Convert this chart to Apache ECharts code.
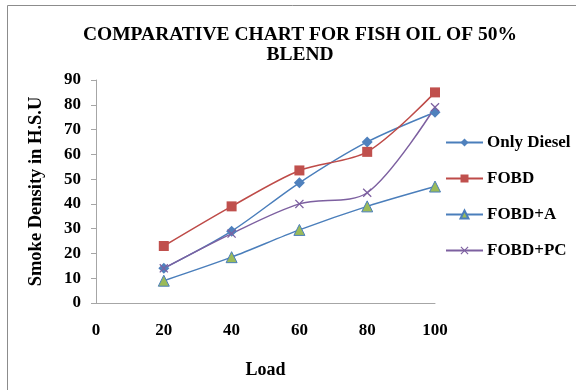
<!DOCTYPE html>
<html>
<head>
<meta charset="utf-8">
<script src="https://cdn.jsdelivr.net/npm/echarts@6/dist/echarts.min.js"></script>
<style>
  html, body { margin: 0; padding: 0; background: #fff; }
  #chart { width: 576px; height: 390px; }
</style>
</head>
<body>
<div id="chart"></div>
<script>
// load (x) and smoke density values
var loads = [20, 40, 60, 80, 100];
var onlyDiesel = [14, 29, 48.5, 65, 77];
var fobd = [23, 39, 53.5, 61, 85];
var fobdA = [9, 18.5, 29.5, 39, 47];
var fobdPC = [14, 28, 40, 44.5, 79];
var xTicks = [0, 20, 40, 60, 80, 100];
var yTicks = [0, 10, 20, 30, 40, 50, 60, 70, 80, 90];

var serif = '"Liberation Serif", "DejaVu Serif", serif';
var crossPath = 'path://M0,1L1,0L5,4L9,0L10,1L6,5L10,9L9,10L5,6L1,10L0,9L4,5Z';

function pairs(values) {
    return values.map(function (v, i) { return [loads[i], v]; });
}

function lineSeries(name, values, lineColor, symbol, fill, border, size) {
    return {
        name: name,
        type: 'line',
        smooth: 0.3,
        data: pairs(values),
        symbol: symbol,
        symbolSize: size,
        lineStyle: {color: lineColor, width: 1.5},
        itemStyle: {color: fill, borderColor: border, borderWidth: border ? 1 : 0},
        z: 3
    };
}

var chart = echarts.init(document.getElementById('chart'));
chart.setOption({
    animation: false,
    textStyle: {fontFamily: serif},
    graphic: [{
        type: 'rect',
        shape: {x: 7.5, y: 5.5, width: 600, height: 400},
        style: {fill: 'none', stroke: '#8c8c8c', lineWidth: 1},
        silent: true
    }],
    title: {
        text: 'COMPARATIVE CHART FOR FISH OIL OF 50%\nBLEND',
        left: 295,
        textAlign: 'center',
        top: 20,
        textStyle: {fontFamily: serif, fontSize: 19.5, fontWeight: 'bold', color: '#000', lineHeight: 20}
    },
    legend: {
        orient: 'vertical',
        left: 440,
        top: 129,
        itemWidth: 37,
        itemHeight: 10,
        itemGap: 19,
        textStyle: {fontFamily: serif, fontSize: 17, fontWeight: 'bold', color: '#000', padding: [0, 0, 0, -1]},
        data: ['Only Diesel', 'FOBD', 'FOBD+A', 'FOBD+PC']
    },
    grid: {left: 96, right: 141, top: 80, bottom: 87, containLabel: false},
    xAxis: {
        type: 'value',
        min: xTicks[0],
        max: xTicks[xTicks.length - 1],
        interval: 20,
        name: 'Load',
        nameLocation: 'middle',
        nameGap: 58,
        nameTextStyle: {fontFamily: serif, fontSize: 18, fontWeight: 'bold', color: '#000'},
        axisLine: {lineStyle: {color: '#a6a6a6'}},
        axisTick: {show: false},
        splitLine: {show: false},
        axisLabel: {margin: 19, fontFamily: serif, fontSize: 17, fontWeight: 'bold', color: '#000'}
    },
    yAxis: {
        type: 'value',
        min: yTicks[0],
        max: yTicks[yTicks.length - 1],
        interval: 10,
        name: 'Smoke Density in H.S.U',
        nameLocation: 'middle',
        nameGap: 50,
        nameTextStyle: {fontFamily: serif, fontSize: 18.5, fontWeight: 'bold', color: '#000'},
        axisLine: {show: true, lineStyle: {color: '#a6a6a6'}},
        axisTick: {show: true, length: 5, lineStyle: {color: '#a6a6a6'}},
        splitLine: {show: false},
        axisLabel: {margin: 15, fontFamily: serif, fontSize: 17, fontWeight: 'bold', color: '#000'}
    },
    series: [
        lineSeries('Only Diesel', onlyDiesel, '#4a7ebb', 'diamond', '#4f81bd', null, 11),
        lineSeries('FOBD', fobd, '#be4b48', 'rect', '#c0504d', null, 10),
        lineSeries('FOBD+A', fobdA, '#4a7ebb', 'triangle', '#9bbb59', '#4a7ebb', 11),
        lineSeries('FOBD+PC', fobdPC, '#7d60a0', crossPath, '#7d60a0', null, 9)
    ]
});
</script>
</body>
</html>
